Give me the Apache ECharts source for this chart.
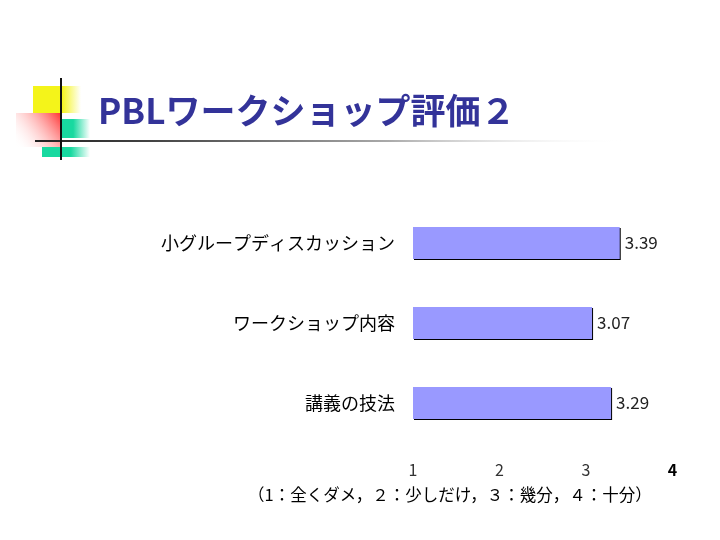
<!DOCTYPE html>
<html>
<head>
<meta charset="utf-8">
<script src="https://cdn.jsdelivr.net/npm/echarts@6/dist/echarts.min.js"></script>
<style>
html, body { margin: 0; padding: 0; background: #fff; }
#main { width: 720px; height: 540px; }
</style>
</head>
<body>
<div id="main"></div>
<script>
// データ
var categories = ['小グループディスカッション', 'ワークショップ内容', '講義の技法'];
var scores = [3.39, 3.07, 3.29];
var tickLabels = ['1', '2', '3', '4'];

var jpFont = '"Noto Sans CJK JP", "Noto Sans", sans-serif';

var myChart = echarts.init(document.getElementById('main'));

option = {
	backgroundColor: '#ffffff',
	animation: false,
	title: {
		text: 'PBLワークショップ評価２',
		left: 93,
		top: 88,
		textStyle: {
			color: '#333399',
			fontSize: 35,
			fontWeight: 'bold',
			fontFamily: jpFont
		}
	},
	grid: {
		left: 413,
		right: 47.5,
		top: 203,
		bottom: 97,
		containLabel: false
	},
	xAxis: {
		type: 'value',
		min: 1,
		max: 4,
		interval: 1,
		splitLine: { show: false },
		axisLine: { show: false },
		axisTick: { show: false },
		axisLabel: {
			margin: 19,
			fontSize: 16,
			color: '#333',
			fontFamily: jpFont,
			formatter: function (v) {
				var s = tickLabels[Math.round(v) - 1];
				return v === 4 ? '{b|' + s + '}' : s;
			},
			rich: {
				b: { fontSize: 16, color: '#000', fontWeight: 'bold', fontFamily: jpFont }
			}
		}
	},
	yAxis: {
		type: 'category',
		inverse: true,
		data: categories,
		axisLine: { show: false },
		axisTick: { show: false },
		axisLabel: {
			margin: 18,
			fontSize: 18,
			color: '#000',
			fontFamily: jpFont
		}
	},
	series: [{
		type: 'bar',
		data: scores,
		barWidth: '40%',
		itemStyle: {
			color: '#9999ff',
			shadowColor: '#000',
			shadowOffsetX: 1,
			shadowOffsetY: 1,
			shadowBlur: 0
		},
		label: {
			show: true,
			position: 'right',
			distance: 5,
			fontSize: 17,
			color: '#222',
			fontFamily: jpFont,
			formatter: function (p) { return p.value.toFixed(2); }
		}
	}],
	graphic: [
		// 飾り
		{
			type: 'rect', z: 1,
			shape: { x: 33, y: 86, width: 48, height: 27 },
			style: {
				fill: new echarts.graphic.LinearGradient(0, 0, 1, 0, [
					{ offset: 0, color: '#f4f41a' },
					{ offset: 0.6, color: '#f4f41a' },
					{ offset: 1, color: 'rgba(244,244,26,0)' }
				])
			}
		},
		{
			type: 'rect', z: 2,
			shape: { x: 16, y: 113, width: 46, height: 34 },
			style: {
				fill: new echarts.graphic.LinearGradient(1, 0, 0, 1, [
					{ offset: 0, color: '#ff2a2a' },
					{ offset: 1, color: 'rgba(255,255,255,0)' }
				])
			}
		},
		{
			type: 'rect', z: 2,
			shape: { x: 62, y: 119, width: 28, height: 19 },
			style: {
				fill: new echarts.graphic.LinearGradient(0, 0, 1, 0, [
					{ offset: 0, color: '#18d9a0' },
					{ offset: 0.4, color: '#18d9a0' },
					{ offset: 1, color: 'rgba(24,217,160,0)' }
				])
			}
		},
		{
			type: 'rect', z: 2,
			shape: { x: 42, y: 147, width: 48, height: 10 },
			style: {
				fill: new echarts.graphic.LinearGradient(0, 0, 1, 0, [
					{ offset: 0, color: '#18d9a0' },
					{ offset: 0.6, color: '#18d9a0' },
					{ offset: 1, color: 'rgba(24,217,160,0)' }
				])
			}
		},
		{
			type: 'rect', z: 3,
			shape: { x: 35, y: 140, width: 590, height: 2 },
			style: {
				fill: new echarts.graphic.LinearGradient(0, 0, 1, 0, [
					{ offset: 0, color: '#222' },
					{ offset: 0.2, color: '#444' },
					{ offset: 0.6, color: '#aaa' },
					{ offset: 1, color: 'rgba(255,255,255,0)' }
				])
			}
		},
		{
			type: 'rect', z: 4,
			shape: { x: 60, y: 78, width: 2, height: 82 },
			style: { fill: '#111' }
		},
		// 注記
		{
			type: 'text',
			left: 248,
			top: 486,
			style: {
				text: '（1：全くダメ，２：少しだけ，３：幾分，４：十分）',
				fontSize: 16.5,
				fill: '#000',
				fontFamily: jpFont
			}
		}
	]
};

myChart.setOption(option);
</script>
</body>
</html>
